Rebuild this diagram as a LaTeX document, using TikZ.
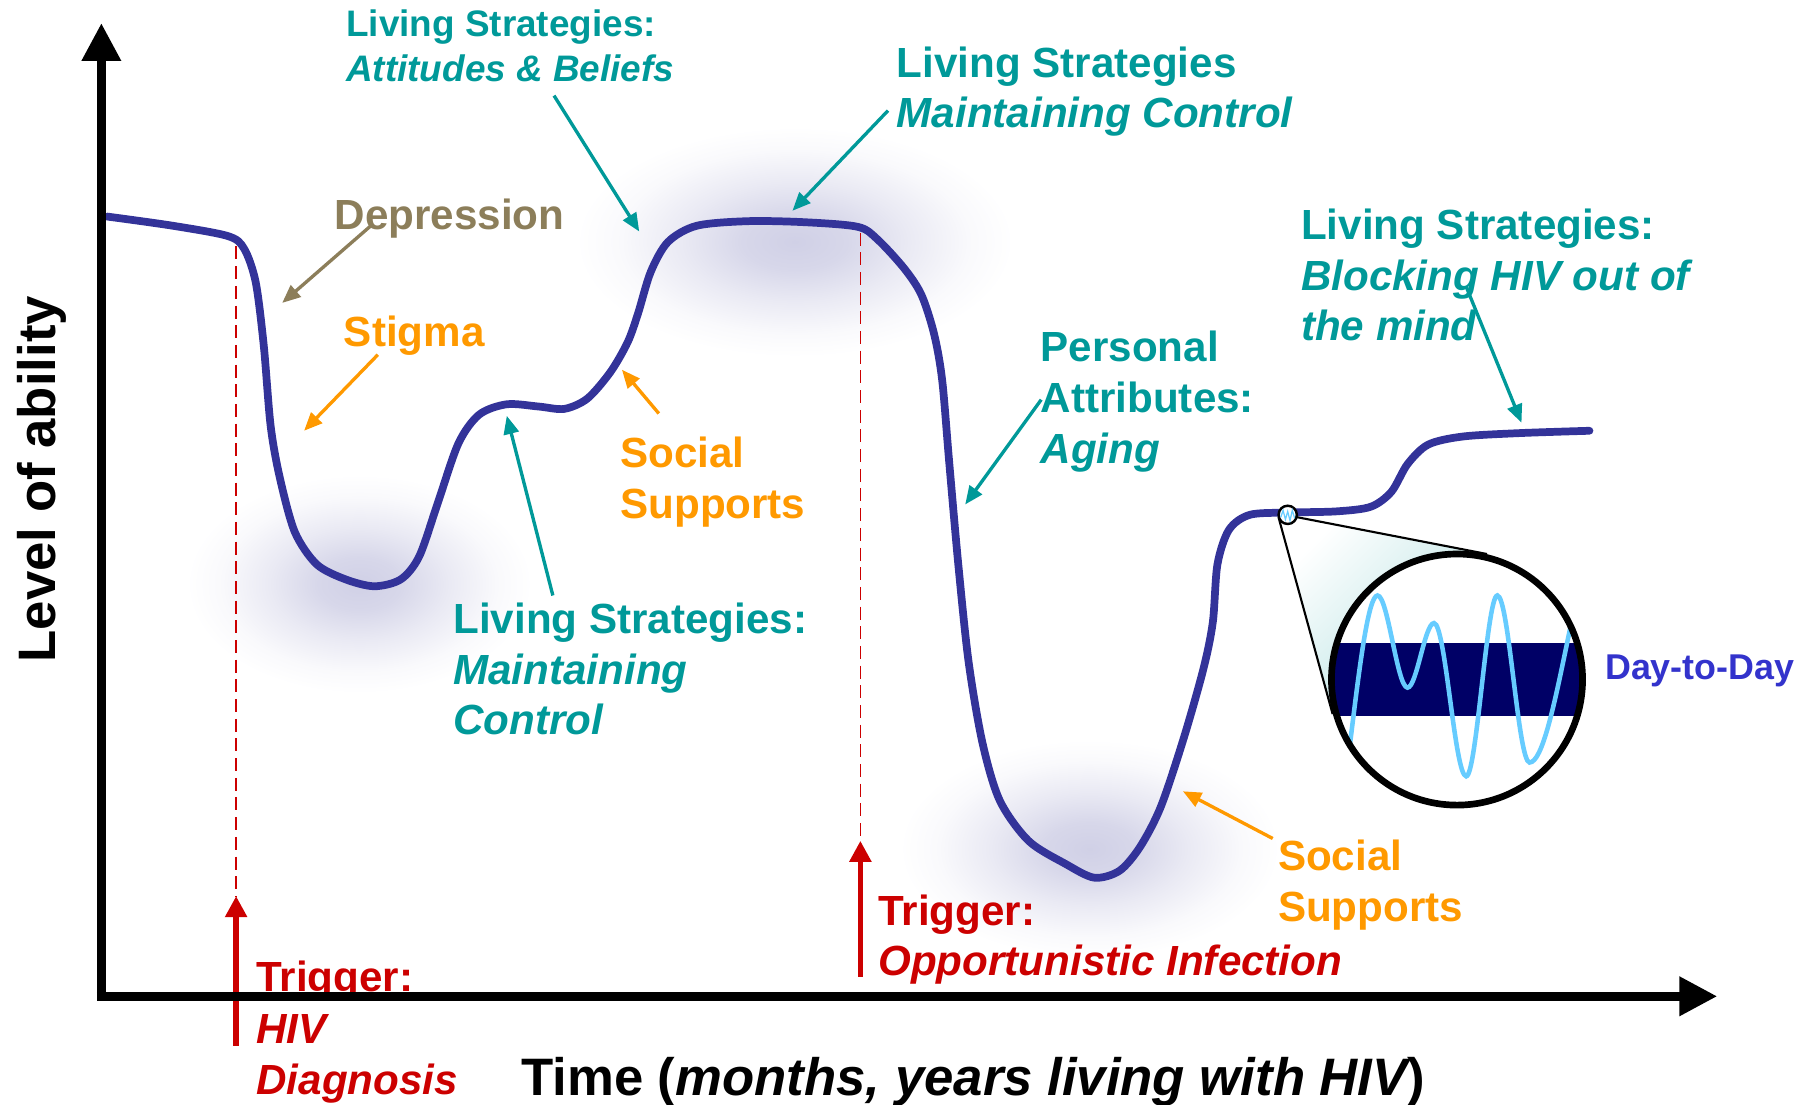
\documentclass[tikz,border=0pt]{standalone}
\usepackage{fontspec}
\setmainfont{Liberation Sans}
\usetikzlibrary{arrows.meta}

\definecolor{lsteal}{RGB}{0,153,153}
\definecolor{lsorange}{RGB}{255,153,0}
\definecolor{lsred}{RGB}{204,0,0}
\definecolor{lskhaki}{RGB}{140,126,90}
\definecolor{curveblue}{RGB}{51,51,153}
\definecolor{daycol}{RGB}{51,51,204}
\definecolor{bandnavy}{RGB}{0,0,102}
\definecolor{wavecyan}{RGB}{102,204,255}
\definecolor{glowc}{RGB}{208,208,230}

\pgfdeclareradialshading{glowshade}{\pgfpoint{0bp}{0bp}}{%
  color(0bp)=(glowc); color(6bp)=(glowc!85!white); color(13bp)=(glowc!45!white);
  color(20bp)=(glowc!12!white); color(25bp)=(white); color(50bp)=(white)}

\begin{document}
\begin{tikzpicture}[x=0.011518cm, y=-0.011518cm,
    lbl/.style={inner sep=0pt, anchor=north west, align=left,
      font=\fontsize{12}{14.4}\selectfont\bfseries},
    ptr/.style={line width=0.95pt, -{Triangle[length=5.2pt,width=4.3pt]}},
    glow/.style={shading=glowshade},
    axisline/.style={line width=2.6pt, -{Triangle[length=10.8pt,width=10.6pt]}},
    trigarrow/.style={lsred, line width=1.6pt, -{Triangle[length=6pt,width=6pt]}},
    trigdash/.style={lsred, line width=0.47pt, dash pattern=on 3.7pt off 1.9pt}]
  \useasboundingbox (0,0) rectangle (1568,959);

  % soft glow under the curve
  \shade[glow] (312,507) ellipse (150 and 95);
  \shade[glow] (690,210) ellipse (190 and 100);
  \shade[glow] (946,737) ellipse (165 and 95);

  % trigger lines
  \coordinate (diag-top) at (205,214);
  \coordinate (diag-tip) at (205,778);
  \coordinate (diag-end) at (205,908);
  \coordinate (oi-top) at (747,202);
  \coordinate (oi-tip) at (747,730);
  \coordinate (oi-end) at (747,848);
  \draw[trigdash] (diag-top) -- (diag-tip);
  \draw[trigdash] (oi-top) -- (oi-tip);

  % labels
  \node[lbl, text=lsteal, font=\fontsize{10.5}{12.8}\selectfont\bfseries] (attitudes) at (300,8)
    {Living Strategies:\\{\itshape Attitudes \& Beliefs}};
  \node[lbl, text=lsteal] (controltop) at (778,40)
    {Living Strategies\\{\itshape Maintaining Control}};
  \node[lbl, text=lskhaki] (depression) at (290,172) {Depression};
  \node[lbl, text=lsorange] (stigma) at (298,274) {Stigma};
  \node[lbl, text=lsorange] (social1) at (538,379) {Social\\Supports};
  \node[lbl, text=lsteal] (controlmid) at (393,523)
    {Living Strategies:\\{\itshape Maintaining}\\{\itshape Control}};
  \node[lbl, text=lsteal] (aging) at (903,287)
    {Personal\\Attributes:\\{\itshape Aging}};
  \node[lbl, text=lsteal] (blocking) at (1129,181)
    {Living Strategies:\\{\itshape Blocking HIV out of}\\{\itshape the mind}};
  \node[lbl, text=lsorange] (social2) at (1109,729) {Social\\Supports};
  \node[lbl, text=lsred, font=\fontsize{12}{14.6}\selectfont\bfseries] (diagnosis) at (222,834)
    {Trigger:\\{\itshape HIV}\\{\itshape Diagnosis}};
  \node[lbl, text=lsred] (infection) at (762,776)
    {Trigger:\\{\itshape Opportunistic Infection}};
  \node[inner sep=0pt, anchor=base west, text=daycol,
    font=\fontsize{10.2}{12}\selectfont\bfseries] (daytoday) at (1393,590) {Day-to-Day};
  \node[inner sep=0pt, anchor=base, rotate=90,
    font=\fontsize{15}{18}\selectfont\bfseries] (ylabel) at (48,416) {Level of ability};
  \node[inner sep=0pt, anchor=base,
    font=\fontsize{15}{18}\selectfont\bfseries] (xlabel) at (845,951)
    {Time ({\itshape months, years living with HIV})};

  % level of ability over time
  \draw[curveblue, line width=2.2pt, line join=round, line cap=round]
    plot[smooth, tension=0.5] coordinates {
      (93,188) (150,196) (198,205) (212,216) (222,245) (229,300) (235,370)
      (243,415) (256,462) (275,490) (300,503) (325,509) (348,503) (364,483)
      (380,437) (398,385) (416,360) (440,351) (468,353) (490,355) (510,346)
      (530,323) (545,297) (554,272) (565,236) (580,210) (605,196) (650,192)
      (700,193) (745,197) (762,208) (785,233) (800,256) (811,290) (818,330)
      (824,400) (832,490) (841,575) (853,645) (868,695) (893,730) (925,750)
      (950,762) (972,756) (990,735) (1008,700) (1028,640) (1045,580)
      (1053,540) (1057,490) (1067,460) (1085,447) (1118,445) (1160,444)
      (1190,440) (1208,427) (1222,403) (1240,386) (1270,379) (1320,376)
      (1380,374)};

  % triggers
  \draw[trigarrow] (diag-end) -- (diag-tip);
  \draw[trigarrow] (oi-end) -- (oi-tip);

  % axes
  \coordinate (origin) at (88,865);
  \coordinate (ytip) at (88,20);
  \coordinate (xtip) at (1491,865);
  \draw[axisline] (88,869) -- (ytip);
  \draw[axisline] (84,865) -- (xtip);

  % pointers
  \coordinate (att-from) at (481,83);
  \coordinate (att-to) at (555,201);
  \coordinate (ctop-from) at (771,96);
  \coordinate (ctop-to) at (688,183);
  \coordinate (dep-from) at (322,196);
  \coordinate (dep-to) at (245,263);
  \coordinate (stig-from) at (328,308);
  \coordinate (stig-to) at (264,374);
  \coordinate (soc1-from) at (572,359);
  \coordinate (soc1-to) at (540,321);
  \coordinate (cmid-from) at (480,517);
  \coordinate (cmid-to) at (440,361);
  \coordinate (age-from) at (904,347);
  \coordinate (age-to) at (838,438);
  \coordinate (blk-from) at (1273,249);
  \coordinate (blk-to) at (1321,367);
  \coordinate (soc2-from) at (1105,728);
  \coordinate (soc2-to) at (1027,687);
  \draw[ptr, lsteal] (att-from) -- (att-to);
  \draw[ptr, lsteal] (ctop-from) -- (ctop-to);
  \draw[ptr, lskhaki] (dep-from) -- (dep-to);
  \draw[ptr, lsorange] (stig-from) -- (stig-to);
  \draw[ptr, lsorange] (soc1-from) -- (soc1-to);
  \draw[ptr, lsteal] (cmid-from) -- (cmid-to);
  \draw[ptr, lsteal] (age-from) -- (age-to);
  \draw[ptr, lsteal] (blk-from) -- (blk-to);
  \draw[ptr, lsorange] (soc2-from) -- (soc2-to);

  % magnified day-to-day view
  \coordinate (spot) at (1118,447);
  \coordinate (lens) at (1265,590);
  \shade[left color=white, right color=lsteal!30, shading angle=45]
    (1110,449) -- (1157,620) -- (lens) -- (1291,481) -- (1126,449) -- cycle;
  \fill[white] (lens) circle (109);
  \begin{scope}
    \clip (lens) circle (108);
    \fill[bandnavy] (1150,558) rectangle (1380,622);
    \draw[wavecyan, line width=1.3pt]
      (1150,760) .. controls (1166,760) and (1180,517) .. (1196,517)
      .. controls (1205,517) and (1213,597) .. (1222,597)
      .. controls (1230,597) and (1237,541) .. (1245,541)
      .. controls (1255,541) and (1263,674) .. (1273,674)
      .. controls (1282,674) and (1291,517) .. (1300,517)
      .. controls (1310,517) and (1318,662) .. (1328,662)
      .. controls (1350,662) and (1370,460) .. (1392,460);
  \end{scope}
  \draw[line width=1.9pt] (lens) circle (109);
  \draw[line width=0.6pt] (1110,449) -- (1157,620);
  \draw[line width=0.6pt] (1126,449) -- (1291,481);
  \node[circle, draw, fill=white, line width=0.7pt,
    inner sep=0pt, minimum size=5.2pt] (spotring) at (spot) {};
  \draw[wavecyan, line width=0.35pt] (1112,449) -- (1114,443) -- (1116,451)
    -- (1118,444) -- (1120,452) -- (1122,443) -- (1124,450);
\end{tikzpicture}
\end{document}
